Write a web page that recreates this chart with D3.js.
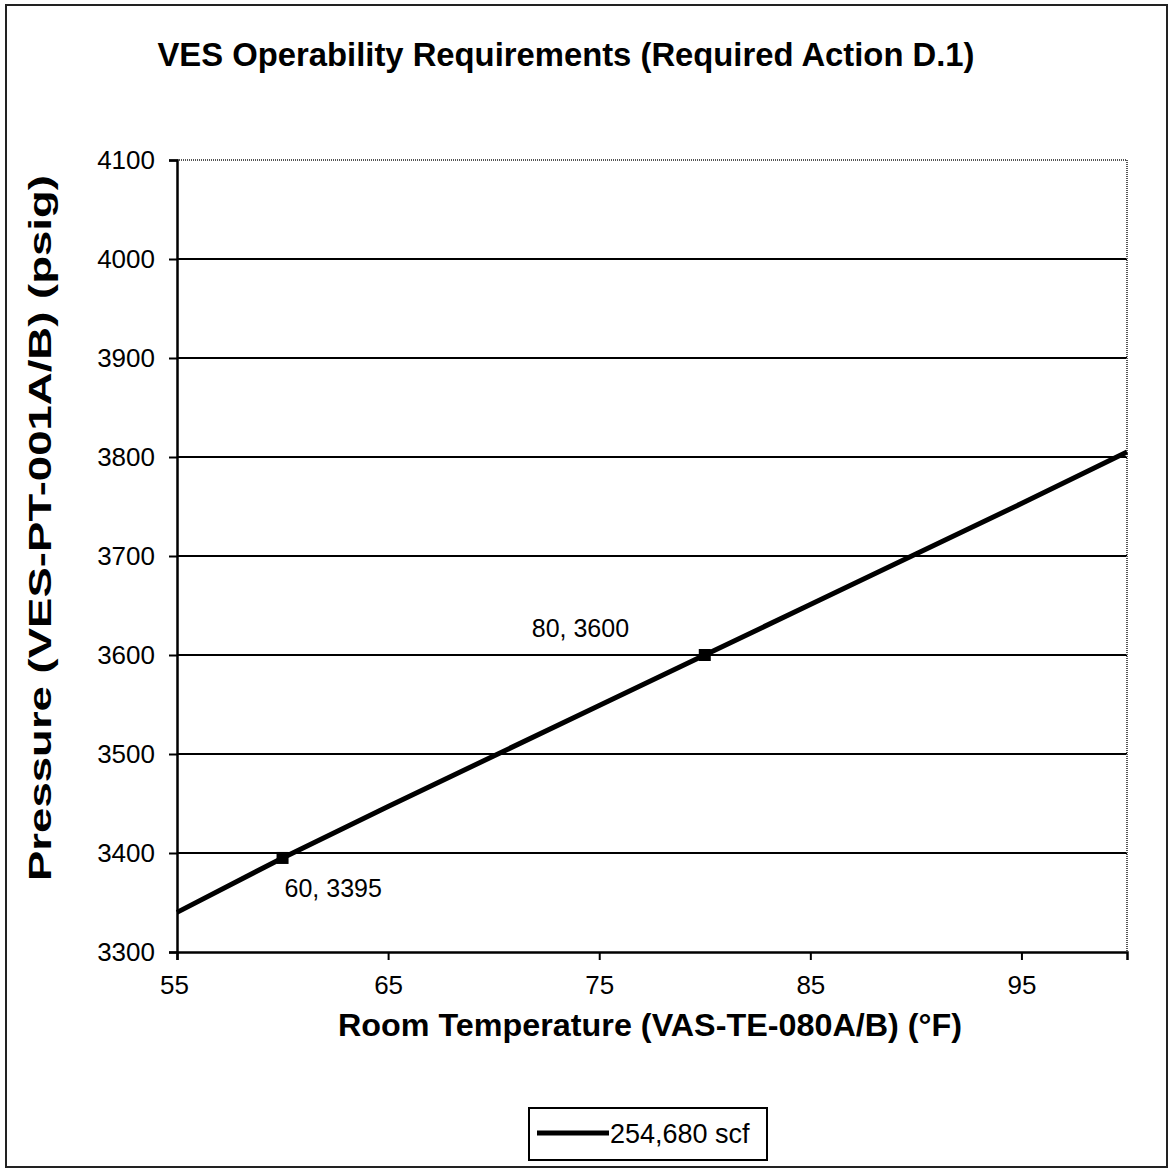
<!DOCTYPE html>
<html>
<head>
<meta charset="utf-8">
<script src="https://cdn.jsdelivr.net/npm/d3@7"></script>
<style>
  body { margin: 0; background: #fff; }
  text { font-family: "Liberation Sans", Arial, sans-serif; fill: #000; }
</style>
</head>
<body>
<svg id="chart" width="1173" height="1170"></svg>
<script>
// data
const temps = [55, 60, 65, 70, 75, 80, 85, 90, 95, 100];
const pressures = [3340, 3395, 3447, 3498, 3549, 3600, 3651, 3702, 3753, 3805];
const labelled = [[60, 3395], [80, 3600]];
const xTicks = [55, 65, 75, 85, 95];
const yTicks = [3300, 3400, 3500, 3600, 3700, 3800, 3900, 4000, 4100];
const seriesName = "254,680 scf";

const svg = d3.select("#chart");
const m = { left: 177, right: 1127, top: 160, bottom: 952 };

// outer frame
svg.append("rect")
  .attr("x", 6).attr("y", 5).attr("width", 1161).attr("height", 1162)
  .attr("fill", "none").attr("stroke", "#222").attr("stroke-width", 2);

const x = d3.scaleLinear().domain([55, 100]).range([m.left, m.right]);
const y = d3.scaleLinear().domain([3300, 4100]).range([m.bottom, m.top]);

// title
svg.append("text")
  .attr("x", 566).attr("y", 66)
  .attr("text-anchor", "middle")
  .attr("font-weight", "bold").attr("font-size", 33)
  .attr("textLength", 817).attr("lengthAdjust", "spacingAndGlyphs")
  .text("VES Operability Requirements (Required Action D.1)");

// gridlines
svg.append("g").selectAll("line")
  .data(yTicks.filter(d => d > 3300 && d < 4100))
  .join("line")
  .attr("x1", m.left).attr("x2", m.right)
  .attr("y1", d => y(d)).attr("y2", d => y(d))
  .attr("stroke", "#000").attr("stroke-width", 2);

// dotted top and right border of plot area
svg.append("path")
  .attr("d", `M${m.left},${m.top}H${m.right}V${m.bottom}`)
  .attr("fill", "none").attr("stroke", "#555").attr("stroke-width", 2)
  .attr("stroke-dasharray", "1,1");

// y axis
const yAxis = svg.append("g")
  .attr("transform", `translate(${m.left},0)`)
  .call(d3.axisLeft(y).tickValues(yTicks).tickSize(8).tickPadding(14).tickFormat(d3.format("d")));
yAxis.select(".domain").attr("stroke", "#000").attr("stroke-width", 2.5);
yAxis.selectAll(".tick line").attr("stroke", "#000").attr("stroke-width", 2);
yAxis.selectAll("text").attr("font-size", 26).attr("fill", "#000");

// x axis
const xAxis = svg.append("g")
  .attr("transform", `translate(0,${m.bottom})`)
  .call(d3.axisBottom(x).tickValues(xTicks).tickSize(8).tickPadding(16));
xAxis.select(".domain").attr("stroke", "#000").attr("stroke-width", 2.5);
xAxis.selectAll(".tick line").attr("stroke", "#000").attr("stroke-width", 2);
xAxis.selectAll("text").attr("font-size", 26).attr("fill", "#000");
xAxis.selectAll(".tick").filter(d => d === 55).select("text").attr("dx", -3);

// axis titles
svg.append("text")
  .attr("x", 650).attr("y", 1036)
  .attr("text-anchor", "middle")
  .attr("font-weight", "bold").attr("font-size", 31)
  .attr("textLength", 624).attr("lengthAdjust", "spacingAndGlyphs")
  .text("Room Temperature (VAS-TE-080A/B) (°F)");

svg.append("text")
  .attr("transform", "translate(51,528) rotate(-90)")
  .attr("text-anchor", "middle")
  .attr("font-weight", "bold").attr("font-size", 31)
  .attr("textLength", 706).attr("lengthAdjust", "spacingAndGlyphs")
  .text("Pressure (VES-PT-001A/B) (psig)");

// series line
const pts = temps.map((t, i) => [t, pressures[i]]);
svg.append("path")
  .datum(pts)
  .attr("d", d3.line().x(d => x(d[0])).y(d => y(d[1])))
  .attr("fill", "none").attr("stroke", "#000").attr("stroke-width", 5);

// labelled markers
svg.append("g").selectAll("rect")
  .data(labelled)
  .join("rect")
  .attr("x", d => x(d[0]) - 6).attr("y", d => y(d[1]) - 6)
  .attr("width", 12).attr("height", 12).attr("fill", "#000");

svg.append("g").selectAll("text")
  .data(labelled)
  .join("text")
  .attr("x", d => d[0] === 80 ? x(d[0]) - 173 : x(d[0]) + 2)
  .attr("y", d => d[0] === 80 ? y(d[1]) - 18 : y(d[1]) + 39)
  .attr("font-size", 25)
  .text(d => `${d[0]}, ${d[1]}`);

// legend
const lg = svg.append("g").attr("transform", "translate(529,1108)");
lg.append("rect").attr("width", 238).attr("height", 52)
  .attr("fill", "#fff").attr("stroke", "#000").attr("stroke-width", 2);
lg.append("line").attr("x1", 8).attr("x2", 80).attr("y1", 25).attr("y2", 25)
  .attr("stroke", "#000").attr("stroke-width", 5);
lg.append("text").attr("x", 81).attr("y", 35).attr("font-size", 27).text(seriesName);
</script>
</body>
</html>
